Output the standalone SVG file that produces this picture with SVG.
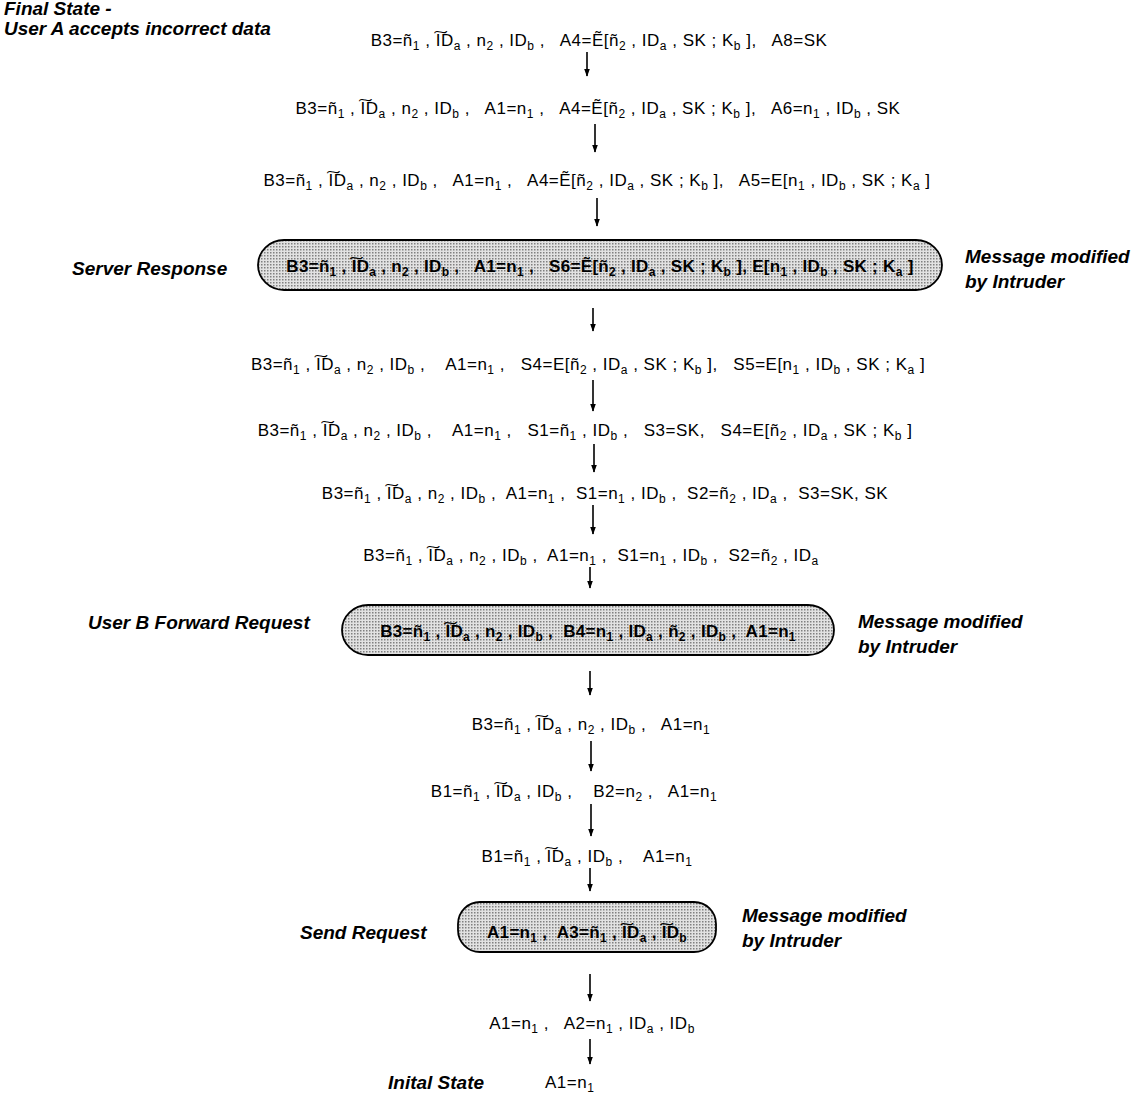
<svg xmlns="http://www.w3.org/2000/svg" width="1145" height="1096" viewBox="0 0 1145 1096">
<style>
text{font-family:"Liberation Sans",Arial,sans-serif;fill:#000;white-space:pre}
.t{font-size:17px;text-anchor:middle;letter-spacing:0.5px}
.tl{font-size:17px;letter-spacing:0.5px}
.b{font-size:17px;text-anchor:middle;font-weight:bold;letter-spacing:0.3px}
.s{font-size:12px;baseline-shift:-4px}
.lab{font-size:19px;font-weight:bold;font-style:italic}
.box{fill:url(#dots);stroke:#000;stroke-width:1.8}
.arr{stroke:#000;stroke-width:1.6;fill:none;marker-end:url(#ah)}
</style>
<defs>
<pattern id="dots" width="3" height="3" patternUnits="userSpaceOnUse">
<rect width="3" height="3" fill="#e2e2e2"/>
<rect width="1.5" height="1.5" fill="#808080"/>
</pattern>
<marker id="ah" markerWidth="8" markerHeight="11" refX="10" refY="4" orient="auto" markerUnits="userSpaceOnUse" viewBox="0 0 11 8">
<path d="M0,0 L11,4 L0,8 Z" fill="#000"/>
</marker>
</defs>

<g id="labels">
<text class="lab" x="4" y="15">Final State -</text>
<text class="lab" x="4" y="35">User A accepts incorrect data</text>
<text class="lab" x="72" y="275">Server Response</text>
<text class="lab" x="965" y="263">Message modified</text>
<text class="lab" x="965" y="288">by Intruder</text>
<text class="lab" x="88" y="629">User B Forward Request</text>
<text class="lab" x="858" y="628">Message modified</text>
<text class="lab" x="858" y="653">by Intruder</text>
<text class="lab" x="300" y="939">Send Request</text>
<text class="lab" x="742" y="922">Message modified</text>
<text class="lab" x="742" y="947">by Intruder</text>
<text class="lab" x="388" y="1089">Inital State</text>
</g>

<g id="connectors">
<line class="arr" x1="587" y1="52" x2="587" y2="76"/>
<line class="arr" x1="595" y1="124" x2="595" y2="152"/>
<line class="arr" x1="597" y1="198" x2="597" y2="226"/>
<line class="arr" x1="593" y1="308" x2="593" y2="331"/>
<line class="arr" x1="593" y1="380" x2="593" y2="411"/>
<line class="arr" x1="594" y1="444" x2="594" y2="472"/>
<line class="arr" x1="593" y1="505" x2="593" y2="534"/>
<line class="arr" x1="590" y1="567" x2="590" y2="588"/>
<line class="arr" x1="590" y1="671" x2="590" y2="695"/>
<line class="arr" x1="591" y1="741" x2="591" y2="771"/>
<line class="arr" x1="591" y1="804" x2="591" y2="836"/>
<line class="arr" x1="590" y1="868" x2="590" y2="891"/>
<line class="arr" x1="590" y1="974" x2="590" y2="1001"/>
<line class="arr" x1="590" y1="1039" x2="590" y2="1064"/>
</g>

<g id="n1"><text class="t" x="599" y="46">B3=ñ<tspan class="s">1</tspan> , I͠D<tspan class="s">a</tspan> , n<tspan class="s">2</tspan> , ID<tspan class="s">b</tspan> ,   A4=Ẽ[ñ<tspan class="s">2</tspan> , ID<tspan class="s">a</tspan> , SK ; K<tspan class="s">b</tspan> ],   A8=SK</text></g>

<g id="n2"><text class="t" x="598" y="114">B3=ñ<tspan class="s">1</tspan> , I͠D<tspan class="s">a</tspan> , n<tspan class="s">2</tspan> , ID<tspan class="s">b</tspan> ,   A1=n<tspan class="s">1</tspan> ,   A4=Ẽ[ñ<tspan class="s">2</tspan> , ID<tspan class="s">a</tspan> , SK ; K<tspan class="s">b</tspan> ],   A6=n<tspan class="s">1</tspan> , ID<tspan class="s">b</tspan> , SK</text></g>

<g id="n3"><text class="t" x="597" y="186">B3=ñ<tspan class="s">1</tspan> , I͠D<tspan class="s">a</tspan> , n<tspan class="s">2</tspan> , ID<tspan class="s">b</tspan> ,   A1=n<tspan class="s">1</tspan> ,   A4=Ẽ[ñ<tspan class="s">2</tspan> , ID<tspan class="s">a</tspan> , SK ; K<tspan class="s">b</tspan> ],   A5=E[n<tspan class="s">1</tspan> , ID<tspan class="s">b</tspan> , SK ; K<tspan class="s">a</tspan> ]</text></g>

<g id="server-response">
<rect class="box" x="258" y="240" width="684" height="50" rx="26" ry="25"/>
<text class="b" x="600" y="272">B3=ñ<tspan class="s">1</tspan> , I͠D<tspan class="s">a</tspan> , n<tspan class="s">2</tspan> , ID<tspan class="s">b</tspan> ,   A1=n<tspan class="s">1</tspan> ,   S6=Ẽ[ñ<tspan class="s">2</tspan> , ID<tspan class="s">a</tspan> , SK ; K<tspan class="s">b</tspan> ], E[n<tspan class="s">1</tspan> , ID<tspan class="s">b</tspan> , SK ; K<tspan class="s">a</tspan> ]</text>
</g>

<g id="n5"><text class="t" x="588" y="370">B3=ñ<tspan class="s">1</tspan> , I͠D<tspan class="s">a</tspan> , n<tspan class="s">2</tspan> , ID<tspan class="s">b</tspan> ,    A1=n<tspan class="s">1</tspan> ,   S4=E[ñ<tspan class="s">2</tspan> , ID<tspan class="s">a</tspan> , SK ; K<tspan class="s">b</tspan> ],   S5=E[n<tspan class="s">1</tspan> , ID<tspan class="s">b</tspan> , SK ; K<tspan class="s">a</tspan> ]</text></g>

<g id="n6"><text class="t" x="585" y="436">B3=ñ<tspan class="s">1</tspan> , I͠D<tspan class="s">a</tspan> , n<tspan class="s">2</tspan> , ID<tspan class="s">b</tspan> ,    A1=n<tspan class="s">1</tspan> ,   S1=ñ<tspan class="s">1</tspan> , ID<tspan class="s">b</tspan> ,   S3=SK,   S4=E[ñ<tspan class="s">2</tspan> , ID<tspan class="s">a</tspan> , SK ; K<tspan class="s">b</tspan> ]</text></g>

<g id="n7"><text class="t" x="605" y="499">B3=ñ<tspan class="s">1</tspan> , I͠D<tspan class="s">a</tspan> , n<tspan class="s">2</tspan> , ID<tspan class="s">b</tspan> ,  A1=n<tspan class="s">1</tspan> ,  S1=n<tspan class="s">1</tspan> , ID<tspan class="s">b</tspan> ,  S2=ñ<tspan class="s">2</tspan> , ID<tspan class="s">a</tspan> ,  S3=SK, SK</text></g>

<g id="n8"><text class="t" x="591" y="561">B3=ñ<tspan class="s">1</tspan> , I͠D<tspan class="s">a</tspan> , n<tspan class="s">2</tspan> , ID<tspan class="s">b</tspan> ,  A1=n<tspan class="s">1</tspan> ,  S1=n<tspan class="s">1</tspan> , ID<tspan class="s">b</tspan> ,  S2=ñ<tspan class="s">2</tspan> , ID<tspan class="s">a</tspan></text></g>

<g id="user-b-forward-request">
<rect class="box" x="342" y="605" width="492" height="50" rx="26" ry="25"/>
<text class="b" x="588" y="637">B3=ñ<tspan class="s">1</tspan> , I͠D<tspan class="s">a</tspan> , n<tspan class="s">2</tspan> , ID<tspan class="s">b</tspan> ,  B4=n<tspan class="s">1</tspan> , ID<tspan class="s">a</tspan> , ñ<tspan class="s">2</tspan> , ID<tspan class="s">b</tspan> ,  A1=n<tspan class="s">1</tspan></text>
</g>

<g id="n10"><text class="t" x="591" y="730">B3=ñ<tspan class="s">1</tspan> , I͠D<tspan class="s">a</tspan> , n<tspan class="s">2</tspan> , ID<tspan class="s">b</tspan> ,   A1=n<tspan class="s">1</tspan></text></g>

<g id="n11"><text class="t" x="574" y="797">B1=ñ<tspan class="s">1</tspan> , I͠D<tspan class="s">a</tspan> , ID<tspan class="s">b</tspan> ,    B2=n<tspan class="s">2</tspan> ,   A1=n<tspan class="s">1</tspan></text></g>

<g id="n12"><text class="t" x="587" y="862">B1=ñ<tspan class="s">1</tspan> , I͠D<tspan class="s">a</tspan> , ID<tspan class="s">b</tspan> ,    A1=n<tspan class="s">1</tspan></text></g>

<g id="send-request">
<rect class="box" x="458" y="902" width="258" height="50" rx="22" ry="22"/>
<text class="b" x="587" y="938">A1=n<tspan class="s">1</tspan> ,  A3=ñ<tspan class="s">1</tspan> , I͠D<tspan class="s">a</tspan> , I͠D<tspan class="s">b</tspan></text>
</g>

<g id="n14"><text class="t" x="592" y="1029">A1=n<tspan class="s">1</tspan> ,   A2=n<tspan class="s">1</tspan> , ID<tspan class="s">a</tspan> , ID<tspan class="s">b</tspan></text></g>

<g id="initial"><text class="tl" x="545" y="1088">A1=n<tspan class="s">1</tspan></text></g>
</svg>
